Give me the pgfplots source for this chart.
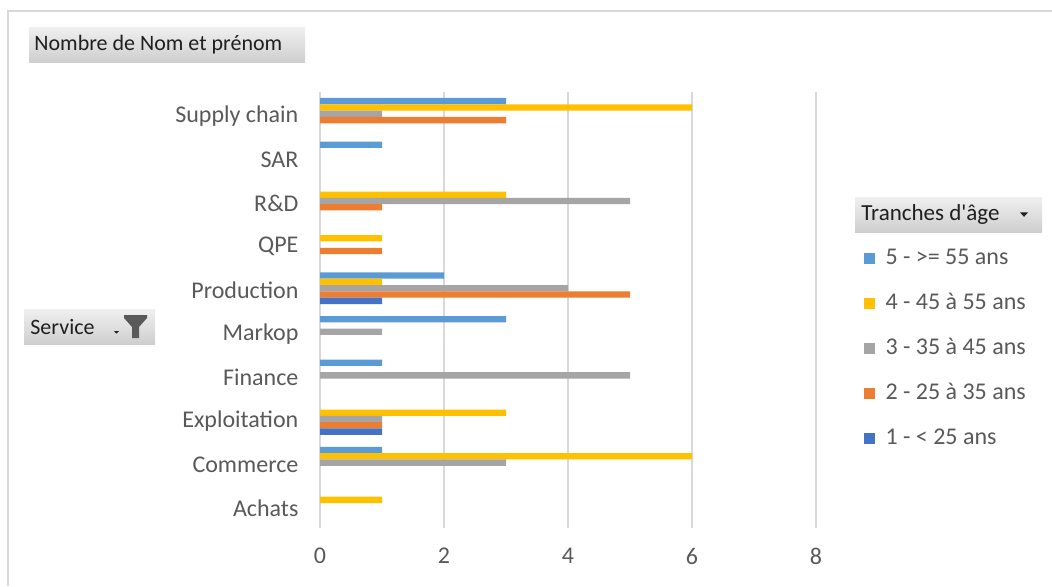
\documentclass[border=0pt]{standalone}
\usepackage{fontspec}
\setmainfont{Carlito}
\usepackage{pgfplots}
\pgfplotsset{compat=1.18}
\definecolor{s5}{HTML}{5B9BD5}
\definecolor{s4}{HTML}{FFC000}
\definecolor{s3}{HTML}{A5A5A5}
\definecolor{s2}{HTML}{ED7D31}
\definecolor{s1}{HTML}{4472C4}
\definecolor{txt}{HTML}{595959}
\definecolor{gridc}{HTML}{D9D9D9}
\definecolor{btnt}{HTML}{1F1F1F}
\pgfplotsset{sq/.style={legend image code/.code={\fill[##1] (0pt,-2.75pt) rectangle (5.5pt,2.75pt);}}}
\begin{document}
\begin{tikzpicture}
\useasboundingbox (0,0) rectangle (526pt,293pt);
% outer border
\draw[gridc, line width=1pt] (4pt,0pt) -- (4pt,287.5pt) -- (526pt,287.5pt);
\begin{axis}[
  at={(160pt,29pt)}, anchor=south west,
  scale only axis, width=248pt, height=218pt,
  xbar, bar width=0.145,
  xmin=0, xmax=8, ymin=-0.5, ymax=9.5,
  xtick={0,2,4,6,8},
  ytick={0,...,9},
  yticklabels={Achats,Commerce,Exploitation,Finance,Markop,Production,QPE,R\&D,SAR,Supply chain},
  xmajorgrids, major grid style={gridc, line width=1pt},
  axis line style={draw=none},
  tick style={draw=none},
  every tick label/.append style={font=\fontsize{12pt}{14pt}\selectfont, text=txt},
  yticklabel style={xshift=-3pt, yshift=-1pt},
  xticklabel style={yshift=-6.5pt},
  /pgf/number format/assume math mode=true,
  legend cell align=left,
  legend style={at={(1.095,0.412)}, anchor=west, draw=none, fill=none, inner sep=0pt,
    font=\fontsize{12pt}{14pt}\selectfont, text=txt, row sep=9.5pt,
    nodes={inner sep=1pt, text height=8.5pt, text depth=2.5pt},
    /tikz/every odd column/.append style={column sep=4.5pt}},
]
\addplot+[sq, draw=none, fill=s5, bar shift=0.29] coordinates {(1,1) (1,3) (3,4) (2,5) (1,8) (3,9)};
\addplot+[sq, draw=none, fill=s4, bar shift=0.145] coordinates {(1,0) (6,1) (3,2) (1,5) (1,6) (3,7) (6,9)};
\addplot+[sq, draw=none, fill=s3, bar shift=0] coordinates {(3,1) (1,2) (5,3) (1,4) (4,5) (5,7) (1,9)};
\addplot+[sq, draw=none, fill=s2, bar shift=-0.145] coordinates {(1,2) (5,5) (1,6) (1,7) (3,9)};
\addplot+[sq, draw=none, fill=s1, bar shift=-0.29] coordinates {(1,2) (1,5)};
\legend{5 - >= 55 ans, 4 - 45 à 55 ans, 3 - 35 à 45 ans, 2 - 25 à 35 ans, 1 - < 25 ans}
\end{axis}
% buttons
\shade[top color=gray!12, bottom color=gray!38] (14.5pt,262pt) rectangle (152.5pt,279.5pt);
\node[anchor=west, text=btnt, inner sep=0pt, font=\fontsize{11pt}{13pt}\selectfont] at (17pt,270.75pt) {Nombre de Nom et prénom};
\shade[top color=gray!12, bottom color=gray!38] (12pt,121pt) rectangle (77.5pt,138.5pt);
\node[anchor=west, text=btnt, inner sep=0pt, font=\fontsize{11pt}{13pt}\selectfont] at (15pt,129.75pt) {Service};
\fill[gray!70!black] (62pt,135.5pt) -- (73.5pt,135.5pt) -- (73.5pt,134pt) -- (69.5pt,129.5pt) -- (69.5pt,124pt) -- (66pt,124pt) -- (66pt,129.5pt) -- (62pt,134pt) -- cycle;
\fill[btnt] (57pt,127.5pt) -- (59.5pt,127.5pt) -- (58.25pt,126.2pt) -- cycle;
\shade[top color=gray!12, bottom color=gray!38] (427.5pt,177pt) rectangle (521pt,194.5pt);
\node[anchor=west, text=btnt, inner sep=0pt, font=\fontsize{11.5pt}{13.5pt}\selectfont] at (430.5pt,185.75pt) {Tranches d\textquotesingle âge};
\fill[btnt] (510pt,186.8pt) -- (514pt,186.8pt) -- (512pt,184.6pt) -- cycle;
\end{tikzpicture}
\end{document}
